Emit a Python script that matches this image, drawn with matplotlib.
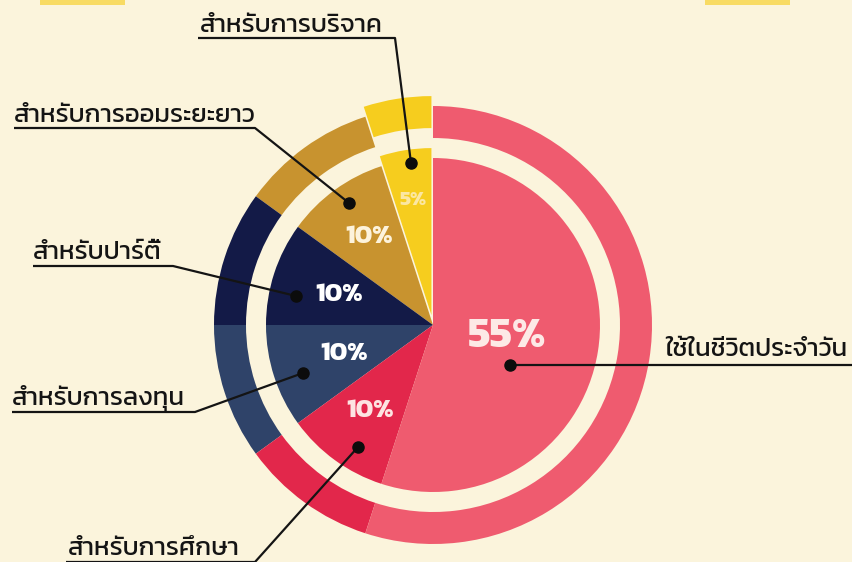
import matplotlib
matplotlib.use("Agg")
import numpy as np
import matplotlib.pyplot as plt
from matplotlib.patches import Rectangle

# data
labels = ["สำหรับการบริจาค", "สำหรับการออมระยะยาว", "สำหรับปาร์ตี้",
          "สำหรับการลงทุน", "สำหรับการศึกษา", "ใช้ในชีวิตประจำวัน"]
values = [5, 10, 10, 10, 10, 55]
colors = ["#f6cd1e", "#c8932f", "#131a47", "#2f4369", "#e2274b", "#ef5b6f"]
pct_colors = ["#fbe7a2", "#fdf3dc", "#ffffff", "#ffffff", "#fde4e2", "#fde9e6"]

BG = "#fbf4dc"
W, H = 852, 562
CX, CY, R = 433, 325, 167  # pie centre and radius in pixels


def P(x, y):
    # pixel position -> data units (pie radius = 1)
    return (x - CX) / R, (CY - y) / R


fig = plt.figure(figsize=(W / 100, H / 100), dpi=100, facecolor=BG)
ax = fig.add_axes([0, 0, 1, 1])
ax.set_facecolor(BG)

explode = [0.06, 0, 0, 0, 0, 0]
ax.pie(values, colors=colors, startangle=90, counterclock=True, radius=1.0,
       explode=explode, wedgeprops=dict(linewidth=0))
ax.pie(values, colors=colors, startangle=90, counterclock=True, radius=219 / R,
       explode=explode, wedgeprops=dict(width=32 / R, linewidth=0))

# percent labels at the wedge mid angles
cum = np.cumsum(values) - np.array(values) / 2
mid = np.deg2rad(90 + 360 * cum / sum(values))
pct_dist = [0.76, 0.65, 0.59, 0.56, 0.64, 0.45]
pct_size = [15, 19, 19, 19, 19, 31]
for v, a, d, s, c in zip(values, mid, pct_dist, pct_size, pct_colors):
    ax.text(d * np.cos(a), d * np.sin(a), f"{v}%", ha="center", va="center",
            fontsize=s, color=c, fontweight="bold", family=["Kanit", "DejaVu Sans"])

# label text position, leader polyline (pixels)
text_pos = [(200, 32), (14, 122), (33, 259), (12, 405), (68, 555), (665, 356)]
leaders = [
    [(198, 38), (395, 38), (411, 163)],
    [(14, 128), (255, 128), (349, 203)],
    [(33, 266), (173, 266), (296, 296)],
    [(12, 412), (195, 412), (303, 373)],
    [(66, 562), (255, 562), (358, 447)],
    [(852, 365), (510, 365)],
]
for lab, (tx, ty), pts in zip(labels, text_pos, leaders):
    x, y = P(tx, ty)
    ax.text(x, y, lab, ha="left", va="baseline", fontsize=18.5, color="#141414",
            family=["Kanit", "DejaVu Sans"])
    xs, ys = zip(*[P(px, py) for px, py in pts])
    ax.plot(xs, ys, color="#141414", lw=1.6, solid_capstyle="butt")
    ax.plot(xs[-1], ys[-1], "o", color="#0c0c0c", ms=8)

# cut-off yellow bits at the top edge
for x0 in (40, 705):
    x, y = P(x0, 5)
    ax.add_patch(Rectangle((x, y), 85 / R, 6 / R, color="#f8db64", lw=0))

ax.set_xlim(P(0, 0)[0], P(W, 0)[0])
ax.set_ylim(P(0, H)[1], P(0, 0)[1])
ax.axis("off")

fig.savefig("out.png", dpi=100, facecolor=BG)
